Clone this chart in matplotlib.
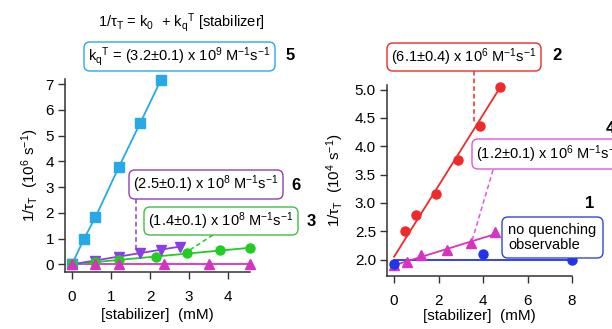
import matplotlib
matplotlib.use("Agg")
import matplotlib.pyplot as plt
from matplotlib.patches import FancyBboxPatch
from matplotlib.lines import Line2D

plt.rcParams['font.family'] = ['Liberation Sans', 'DejaVu Sans']
plt.rcParams['mathtext.fontset'] = 'custom'
plt.rcParams['mathtext.rm'] = 'Liberation Sans'
plt.rcParams['mathtext.it'] = 'Liberation Sans:italic'
plt.rcParams['mathtext.default'] = 'regular'

# ---------------- data: left panel (10^6 s^-1) ----------------
x5 = [0, 0.3, 0.6, 1.2, 1.75, 2.28]
y5 = [0, 0.97, 1.83, 3.78, 5.5, 7.17]
x6 = [0, 0.6, 1.2, 1.75, 2.28, 2.77]
y6 = [0, 0.12, 0.27, 0.42, 0.57, 0.67]
fit6_x = [0, 2.77]
fit6_y = [0, 0.69]
x3 = [0, 0.6, 1.2, 2.15, 2.95, 3.8, 4.55]
y3 = [0, 0.08, 0.17, 0.3, 0.44, 0.56, 0.65]
fit3_x = [0, 4.55]
fit3_y = [0, 0.64]
xm_l = [0, 0.6, 1.2, 2.35, 3.5, 4.56]
ym_l = [0, 0, 0, 0, 0, 0]

# ---------------- data: right panel (10^4 s^-1) ----------------
x2 = [0.5, 1.0, 1.9, 2.89, 3.84, 4.74]
y2 = [2.5, 2.79, 3.15, 3.76, 4.36, 5.05]
fit2_x = [0, 4.74]
fit2_y = [2.05, 5.02]
x4 = [0, 0.6, 1.2, 2.37, 3.46, 4.55]
y4 = [1.91, 1.95, 2.08, 2.17, 2.3, 2.48]
fit4_x = [0, 4.55]
fit4_y = [1.9, 2.45]
x1 = [0, 4, 8]
y1 = [1.93, 2.1, 2.0]
fit1_x = [0, 8]
fit1_y = [2.0, 2.0]

left_xticks = [0, 1, 2, 3, 4]
left_yticks = [0, 1, 2, 3, 4, 5, 6, 7]
right_xticks = [0, 2, 4, 6, 8]
right_yticks = [2.0, 2.5, 3.0, 3.5, 4.0, 4.5, 5.0]

C_CYAN = '#27A9E8'
C_PURP = '#8B3FE0'
C_GREEN = '#22CC22'
C_MAG = '#D633C0'
C_RED = '#EE2A2A'
C_BLUE = '#2233EE'

W, H = 612, 329
fig = plt.figure(figsize=(W / 100, H / 100), dpi=100)


def fpos(x0, y0, x1, y1):
    return [x0 / W, 1 - y1 / H, (x1 - x0) / W, (y1 - y0) / H]


def style(ax):
    for s in ['top', 'right']:
        ax.spines[s].set_visible(False)
    for s in ['left', 'bottom']:
        ax.spines[s].set_color('#333333')
        ax.spines[s].set_linewidth(1.1)
    ax.tick_params(direction='out', length=5, width=1, color='#333333',
                   labelsize=11, pad=3)
    ax.tick_params(axis='x', pad=8)
    ax.patch.set_alpha(0)


axL = fig.add_axes(fpos(65, 79, 250, 272))
style(axL)
axL.set_xlim(-0.18, 4.56)
axL.set_ylim(-0.3, 7.2)
axL.set_xticks(left_xticks)
axL.set_yticks(left_yticks)

axL.plot(xm_l, ym_l, '-', color=C_MAG, lw=1.3, zorder=2)
axL.plot(xm_l, ym_l, '^', color=C_MAG, ms=6.5, clip_on=False, zorder=5)
axL.plot(fit3_x, fit3_y, '-', color=C_GREEN, lw=1.3, zorder=2)
axL.plot(x3, y3, 'o', color=C_GREEN, ms=6.5, clip_on=False, zorder=4)
axL.plot(fit6_x, fit6_y, '-', color=C_PURP, lw=1.3, zorder=2)
axL.plot(x6, y6, 'v', color=C_PURP, ms=7, clip_on=False, zorder=3)
axL.plot(x5, y5, '-', color=C_CYAN, lw=1.3, zorder=2, clip_on=False)
axL.plot(x5, y5, 's', color=C_CYAN, ms=6.5, clip_on=False, zorder=3)

axL.set_xlabel('[stabilizer]  (mM)', fontsize=11, labelpad=3)
axL.set_ylabel('1/τ$_\\mathrm{T}$  (10$^6$ s$^{-1}$)', fontsize=11, labelpad=3)

axR = fig.add_axes(fpos(387, 85, 572, 276))
style(axR)
axR.set_xlim(-0.32, 8.0)
axR.set_ylim(1.71, 5.08)
axR.set_xticks(right_xticks)
axR.set_yticks(right_yticks)
axR.set_yticklabels([f'{v:.1f}' for v in right_yticks])

axR.plot(fit1_x, fit1_y, '-', color=C_BLUE, lw=1.3, zorder=2, clip_on=False)
axR.plot(x1, y1, 'o', color=C_BLUE, ms=6.5, clip_on=False, zorder=5)
axR.plot(fit4_x, fit4_y, '-', color=C_MAG, lw=1.3, zorder=2)
axR.plot(x4, y4, '^', color=C_MAG, ms=7, clip_on=False, zorder=4)
axR.plot(fit2_x, fit2_y, '-', color=C_RED, lw=1.3, zorder=2, clip_on=False)
axR.plot(x2, y2, 'o', color=C_RED, ms=6.5, clip_on=False, zorder=3)

axR.set_xlabel('[stabilizer]  (mM)', fontsize=11, labelpad=1)
axR.set_ylabel('1/τ$_\\mathrm{T}$  (10$^4$ s$^{-1}$)', fontsize=11, labelpad=6)

# ---------------- annotations (pixel coords, top-left origin) ----------------
tr = fig.dpi_scale_trans


def P(x, y):
    return (x / 100, (H - y) / 100)


def box(x0, y0, x1, y1, color, text, fs=10.5, ha='center'):
    bx, by = P(x0, y1)
    p = FancyBboxPatch((bx, by), (x1 - x0) / 100, (y1 - y0) / 100,
                       boxstyle='round,pad=0,rounding_size=0.06',
                       transform=tr, facecolor='white', edgecolor=color,
                       lw=1.0, zorder=10, clip_on=False)
    fig.patches.append(p)
    if ha == 'center':
        cx, cy = P((x0 + x1) / 2, (y0 + y1) / 2)
    else:
        cx, cy = P(x0 + 6, (y0 + y1) / 2)
    fig.text(cx, cy, text, transform=tr, ha=ha, va='center',
             fontsize=fs, zorder=11, linespacing=1.05)


def dline(x0, y0, x1, y1, color):
    a, b = P(x0, y0)
    c, d = P(x1, y1)
    fig.lines.append(Line2D([a, c], [b, d], transform=tr, color=color,
                            lw=1.1, ls=(0, (3, 2)), zorder=9))


def blabel(x, y, s):
    a, b = P(x, y)
    fig.text(a, b, s, transform=tr, ha='center', va='center',
             fontsize=12, fontweight='bold')


a, b = P(181, 23)
fig.text(a, b, '1/τ$_\\mathrm{T}$ = k$_0$  + k$_\\mathrm{q}$$^\\mathrm{T}$ [stabilizer]',
         transform=tr, ha='center', va='center', fontsize=10.5)

box(84, 42, 275, 71, C_CYAN,
    'k$_\\mathrm{q}$$^\\mathrm{T}$ = (3.2±0.1) x 10$^9$ M$^{-1}$s$^{-1}$')
blabel(290, 56, '5')

dline(136, 199, 136, 250, C_PURP)
box(129, 170, 283, 199, '#9040B0', '(2.5±0.1) x 10$^8$ M$^{-1}$s$^{-1}$')
blabel(296, 185, '6')

dline(213, 235, 185, 253, C_GREEN)
box(144, 207, 298, 235, '#44BB44', '(1.4±0.1) x 10$^8$ M$^{-1}$s$^{-1}$')
blabel(311, 222, '3')

dline(474, 71, 474, 122, C_RED)
box(387, 43, 541, 71, C_RED, '(6.1±0.4) x 10$^6$ M$^{-1}$s$^{-1}$')
blabel(557, 56, '2')

dline(493, 170, 472, 241, '#E055E0')
box(472, 139, 625, 169, '#E055E0', '(1.2±0.1) x 10$^6$ M$^{-1}$s$^{-1}$')
blabel(610, 128, '4')

box(502, 217, 603, 258, '#3344DD', 'no quenching\nobservable', ha='left')
blabel(590, 203, '1')

fig.savefig('out.png', dpi=100)
